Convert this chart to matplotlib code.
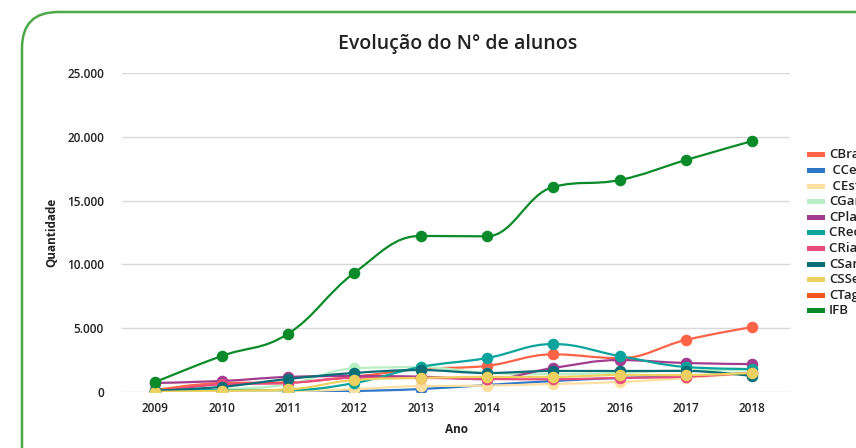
import numpy as np
import matplotlib
matplotlib.use("Agg")
import matplotlib.pyplot as plt
from matplotlib.path import Path
from matplotlib.patches import PathPatch, FancyBboxPatch, Rectangle
from matplotlib.ticker import FuncFormatter

plt.rcParams['font.family'] = ['Open Sans', 'DejaVu Sans']

years = [2009, 2010, 2011, 2012, 2013, 2014, 2015, 2016, 2017, 2018]
names = ["CBrazlândia", " CCeilândia", " CEstrutural", "CGama", "CPlanaltina",
         "CRecanto das Emas", "CRiacho Fundo", "CSamambaia", "CSSebastião",
         "CTaguatinga", "IFB"]
colors = ["#FF6347", "#2E78C8", "#FFE0A0", "#B8F0C4", "#A23C8F",
          "#0BA39B", "#E84C7C", "#0A6E77", "#EDD060", "#F2561A", "#0B8A2A"]

cbrazlandia = [150, 700, 750, 1200, 1800, 2050, 2950, 2650, 4080, 5090]
cceilandia = [0, 0, 0, 80, 230, 550, 860, 1100, 1250, 1500]
cestrutural = [0, 0, 50, 230, 470, 500, 630, 780, 1100, 1500]
cgama = [0, 200, 600, 1850, 1950, 1500, 1400, 1500, 1700, 1700]
cplanaltina = [710, 860, 1180, 1250, 1200, 1000, 1880, 2500, 2270, 2190]
crecanto = [150, 150, 150, 700, 1960, 2660, 3760, 2820, 1960, 1800]
criacho = [0, 600, 700, 1100, 1100, 1020, 1000, 1100, 1200, 1500]
csamambaia = [100, 400, 1020, 1490, 1720, 1490, 1650, 1650, 1650, 1250]
cssebastiao = [0, 100, 200, 940, 1100, 1180, 1180, 1330, 1330, 1500]
ctaguatinga = [np.nan] * 10
ifb = [780, 2820, 4550, 9330, 12230, 12200, 16070, 16610, 18180, 19670]

series = [cbrazlandia, cceilandia, cestrutural, cgama, cplanaltina, crecanto,
          criacho, csamambaia, cssebastiao, ctaguatinga, ifb]

yticks = [0, 5000, 10000, 15000, 20000, 25000]


def spline_path(xs, ys, smoothing=1.5):
    denom = smoothing + 1
    n = len(xs)
    verts = [(xs[0], ys[0])]
    codes = [Path.MOVETO]
    lc = [None] * n
    rc = [None] * n
    for i in range(n):
        if i == 0 or i == n - 1:
            lc[i] = (xs[i], ys[i])
            rc[i] = (xs[i], ys[i])
            continue
        lx, ly = xs[i - 1], ys[i - 1]
        nx, ny = xs[i + 1], ys[i + 1]
        px, py = xs[i], ys[i]
        lcx = (smoothing * px + lx) / denom
        lcy = (smoothing * py + ly) / denom
        rcx = (smoothing * px + nx) / denom
        rcy = (smoothing * py + ny) / denom
        if rcx != lcx:
            corr = ((rcy - lcy) * (rcx - px)) / (rcx - lcx) + py - rcy
            lcy += corr
            rcy += corr
        if lcy > ly and lcy > py:
            lcy = max(ly, py); rcy = 2 * py - lcy
        elif lcy < ly and lcy < py:
            lcy = min(ly, py); rcy = 2 * py - lcy
        if rcy > ny and rcy > py:
            rcy = max(ny, py); lcy = 2 * py - rcy
        elif rcy < ny and rcy < py:
            rcy = min(ny, py); lcy = 2 * py - rcy
        lc[i] = (lcx, lcy)
        rc[i] = (rcx, rcy)
    for i in range(1, n):
        verts += [rc[i - 1], lc[i], (xs[i], ys[i])]
        codes += [Path.CURVE4] * 3
    return Path(verts, codes)


fig = plt.figure(figsize=(8.56, 4.48), dpi=100)

# background frame
bg = fig.add_axes([0, 0, 1, 1])
bg.set_xlim(0, 856)
bg.set_ylim(448, 0)
bg.axis('off')
frame = FancyBboxPatch((22, 12), 900, 500, boxstyle="round,pad=0,rounding_size=36",
                       fill=False, ec="#4DA847", lw=1.8)
bg.add_patch(frame)

ax = fig.add_axes([122 / 856, 1 - 392 / 448, (790 - 122) / 856, (392 - 73) / 448])
ax.set_facecolor('none')
ax.set_xlim(2008.5, 2018.57)
ax.set_ylim(0, 25000)
for s in ax.spines.values():
    s.set_visible(False)
ax.set_yticks(yticks)
ax.yaxis.set_major_formatter(FuncFormatter(lambda v, p: f"{int(v):,}".replace(",", ".")))
ax.set_xticks(years)
ax.set_xticklabels([str(y) for y in years])
ax.grid(axis='y', color='#d9d9d9', lw=1)
ax.tick_params(axis='both', length=0, labelsize=8.5, colors='#222222')
ax.tick_params(axis='y', pad=13)
ax.tick_params(axis='x', pad=7)
for lab in ax.get_xticklabels() + ax.get_yticklabels():
    lab.set_fontweight('semibold')
ax.set_axisbelow(True)

for vals, c in zip(series, colors):
    arr = np.array(vals, dtype=float)
    if np.all(np.isnan(arr)):
        continue
    p = spline_path(np.array(years, float), arr)
    ax.add_patch(PathPatch(p, fill=False, ec=c, lw=1.6, zorder=3))
    ax.plot(years, arr, 'o', color=c, ms=7.3, zorder=4, mec=c)

ax.set_ylabel("Quantidade", fontsize=8.5, fontweight='bold', labelpad=6, color='#222222')
ax.set_xlabel("Ano", fontsize=8.5, fontweight='bold', labelpad=6, color='#222222')

fig.text(458 / 856, 1 - 44 / 448, "Evolução do N° de alunos", ha='center', va='center',
         fontsize=14, fontweight='semibold', color='#222222')

# legend
for i, (nm, c) in enumerate(zip(names, colors)):
    y = 155 + i * 15.6
    bg.add_patch(Rectangle((807, y - 2.5), 18, 5, color=c, lw=0))
    bg.text(829, y, nm, va='center', ha='left', fontsize=9.5, fontweight='semibold',
            color='#222222')

fig.savefig("out.png", dpi=100)
